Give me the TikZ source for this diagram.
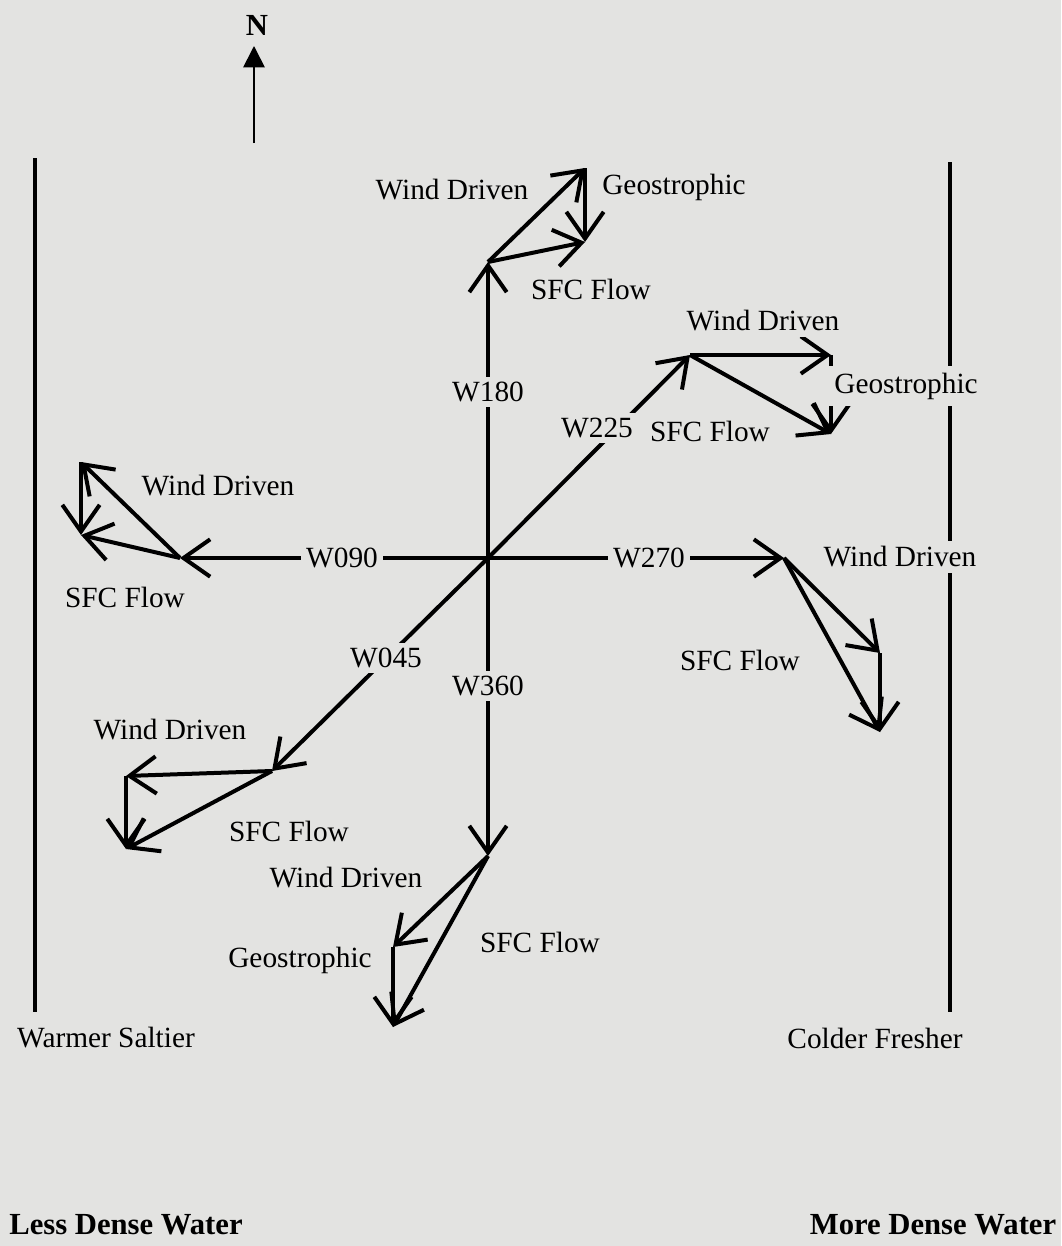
\documentclass[tikz,border=0pt]{standalone}
\usepackage{fontspec}
\setmainfont{Liberation Serif}
\usetikzlibrary{arrows.meta}
\definecolor{paper}{RGB}{227,227,225}
\tikzset{
  vec/.style={line width=3pt,-{Straight Barb[length=20pt,width=28pt]}},
  lbl/.style={fill=paper,inner sep=4pt,font=\fontsize{22}{25}\selectfont},
  boldlbl/.style={inner sep=0pt,font=\fontsize{23}{26}\selectfont\bfseries}
}
\newcommand{\FlowTriangle}[3]{
  \draw[vec](#1)--(#2);
  \draw[vec](#2)--(#3);
  \draw[vec](#1)--(#3);
}

\begin{document}
\begin{tikzpicture}[x=0.75pt,y=-0.75pt]
  \fill[paper](0,0)rectangle(1061,1246);
  \useasboundingbox(0,0)rectangle(1061,1246);
  % north arrow
  \node[boldlbl](n)at(257,25){N};
  \coordinate(nfoot)at(254,143);
  \coordinate(ntip)at(254,46);
  \draw[line width=1.3pt,-{Triangle[length=16pt,width=16pt]}](nfoot)--(ntip);
  % water boundaries
  \coordinate(lt)at(35,158);\coordinate(lb)at(35,1012);
  \coordinate(rt)at(950,162);\coordinate(rb)at(950,1012);
  \draw[line width=3pt](lt)--(lb);
  \draw[line width=3pt](rt)--(rb);
  % wind directions
  \coordinate(o)at(488,558);
  \foreach \name/\x/\y in {t180/488/262,t225/690/355,t090/180/558,t270/784/558,t045/272/771,t360/488/856}
  {
    \coordinate(\name)at(\x,\y);
    \draw[vec](o)--(\name);
  }
  % wind driven and sfc tips
  \foreach \name/\x/\y in {wd180/585/168,sf180/585/242,wd225/831/355,sf225/831/434,
    wd090/81/462,sf090/81/535,wd270/880/653,sf270/880/732,
    wd045/126/776,sf045/126/849,wd360/393/947,sf360/393/1027}
  {
    \coordinate(\name)at(\x,\y);
  }
  \FlowTriangle{t180}{wd180}{sf180}
  \FlowTriangle{t225}{wd225}{sf225}
  \FlowTriangle{t090}{wd090}{sf090}
  \FlowTriangle{t270}{wd270}{sf270}
  \FlowTriangle{t045}{wd045}{sf045}
  \FlowTriangle{t360}{wd360}{sf360}
  % labels
  \node[lbl](w180)at(488,392){W180};
  \node[lbl](w225)at(597,428){W225};
  \node[lbl](w090)at(342,558){W090};
  \node[lbl](w270)at(649,558){W270};
  \node[lbl](w045)at(386,658){W045};
  \node[lbl](w360)at(488,686){W360};
  \node[lbl](wdl180)at(452,190){Wind Driven};
  \node[lbl](gel180)at(674,187){Geostrophic};
  \node[lbl](sfl180)at(591,289){SFC Flow};
  \node[lbl](wdl225)at(763,321){Wind Driven};
  \node[lbl,inner sep=5pt](gel225)at(906,386){Geostrophic};
  \node[lbl](sfl225)at(710,431){SFC Flow};
  \node[lbl](wdl090)at(218,486){Wind Driven};
  \node[lbl](sfl090)at(125,597){SFC Flow};
  \node[lbl](wdl270)at(900,557){Wind Driven};
  \node[lbl](sfl270)at(740,660){SFC Flow};
  \node[lbl](wdl045)at(170,730){Wind Driven};
  \node[lbl](sfl045)at(289,831){SFC Flow};
  \node[lbl](wdl360)at(346,878){Wind Driven};
  \node[lbl](sfl360)at(540,942){SFC Flow};
  \node[lbl](gel360)at(300,960){Geostrophic};
  \node[lbl](warm)at(106,1038){Warmer Saltier};
  \node[lbl](cold)at(875,1038){Colder Fresher};
  \node[boldlbl](less)at(126,1225){Less Dense Water};
  \node[boldlbl](more)at(933,1225){More Dense Water};
\end{tikzpicture}
\end{document}
